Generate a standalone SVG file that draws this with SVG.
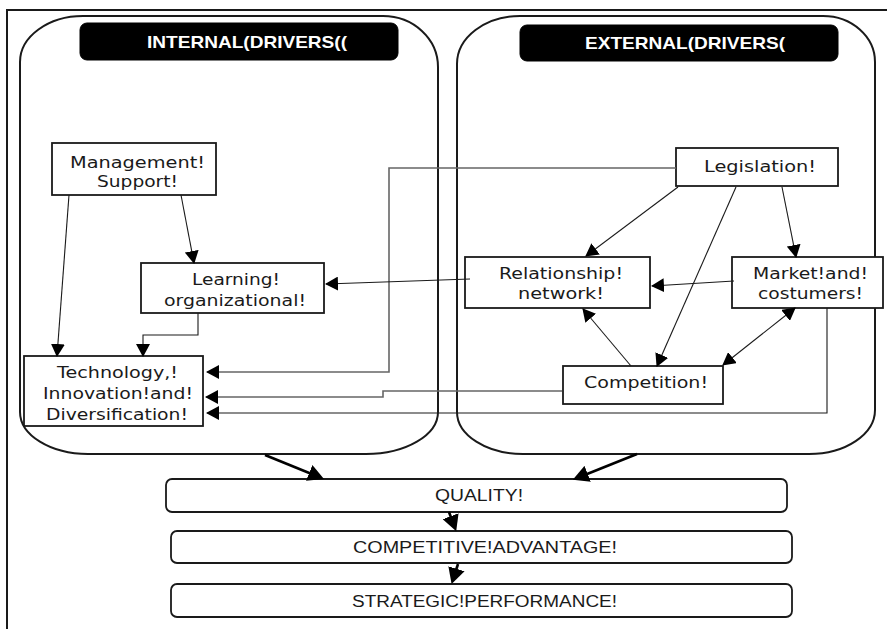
<svg xmlns="http://www.w3.org/2000/svg" width="887" height="629" viewBox="0 0 887 629">
<style>
.frame{fill:none;stroke:#1a1a1a;stroke-width:2}
.group{fill:#fff;stroke:#1a1a1a;stroke-width:2}
.hdr{fill:#000;stroke:#000;stroke-width:1}
.hdrt{font-family:"Liberation Sans",Arial,sans-serif;font-weight:bold;font-size:17px;fill:#fff}
.node{fill:#fff;stroke:#1a1a1a;stroke-width:1.8}
.nt{font-family:"DejaVu Sans","Liberation Sans",sans-serif;font-size:16px;fill:#1a1a1a}
.bt{font-family:"Liberation Sans",Arial,sans-serif;font-size:16px;fill:#1a1a1a}
.ln{fill:none;stroke:#1a1a1a;stroke-width:1.1}
.lg{fill:none;stroke:#666;stroke-width:1.6}
.thick{fill:none;stroke:#000;stroke-width:2.6}
</style>
<defs>
<marker id="arr" markerUnits="userSpaceOnUse" markerWidth="14" markerHeight="14" refX="12" refY="7" orient="auto-start-reverse">
<path d="M0,0 L13,7 L0,14 Z" fill="#000"/>
</marker>
<marker id="arrB" markerUnits="userSpaceOnUse" markerWidth="17" markerHeight="17" refX="12" refY="8.5" orient="auto">
<path d="M0,0 L16,8.5 L0,17 Z" fill="#000"/>
</marker>
</defs>

<polyline class="frame" points="7,629 7,10 887,10"/>

<g id="internal-drivers">
<path class="group" d="M20,62 A63,46 0 0 1 83,16 L383,16 A55,51 0 0 1 438,67 L438,412 A72,42 0 0 1 366,454 L88,454 A68,42 0 0 1 20,412 Z"/>
<rect class="hdr" x="80" y="23" width="318" height="37" rx="7"/>
<text class="hdrt" x="147" y="48" textLength="200" lengthAdjust="spacingAndGlyphs">INTERNAL(DRIVERS((</text>
</g>

<g id="external-drivers">
<path class="group" d="M457,64 A63,48 0 0 1 520,16 L823,16 A52,46 0 0 1 875,62 L875,410 A66,44 0 0 1 809,454 L523,454 A66,42 0 0 1 457,412 Z"/>
<rect class="hdr" x="520" y="25" width="318" height="36" rx="7"/>
<text class="hdrt" x="585" y="49" textLength="200" lengthAdjust="spacingAndGlyphs">EXTERNAL(DRIVERS(</text>
</g>

<g id="management-support">
<rect class="node" x="52" y="143" width="164" height="52"/>
<text class="nt" x="70" y="168" textLength="135" lengthAdjust="spacingAndGlyphs">Management!</text>
<text class="nt" x="97" y="187" textLength="81" lengthAdjust="spacingAndGlyphs">Support!</text>
</g>

<g id="learning-organizational">
<rect class="node" x="141" y="263" width="183" height="50"/>
<text class="nt" x="192" y="285" textLength="88" lengthAdjust="spacingAndGlyphs">Learning!</text>
<text class="nt" x="164" y="306" textLength="142" lengthAdjust="spacingAndGlyphs">organizational!</text>
</g>

<g id="technology">
<rect class="node" x="24" y="356" width="179" height="70"/>
<text class="nt" x="57" y="378" textLength="121" lengthAdjust="spacingAndGlyphs">Technology,!</text>
<text class="nt" x="43" y="399" textLength="150" lengthAdjust="spacingAndGlyphs">Innovation!and!</text>
<text class="nt" x="46" y="420" textLength="142" lengthAdjust="spacingAndGlyphs">Diversification!</text>
</g>

<g id="legislation">
<rect class="node" x="676" y="148" width="162" height="38"/>
<text class="nt" x="704" y="172" textLength="112" lengthAdjust="spacingAndGlyphs">Legislation!</text>
</g>

<g id="relationship-network">
<rect class="node" x="465" y="257" width="185" height="51"/>
<text class="nt" x="499" y="279" textLength="124" lengthAdjust="spacingAndGlyphs">Relationship!</text>
<text class="nt" x="518" y="299" textLength="86" lengthAdjust="spacingAndGlyphs">network!</text>
</g>

<g id="market-costumers">
<rect class="node" x="732" y="257" width="151" height="51"/>
<text class="nt" x="753" y="279" textLength="115" lengthAdjust="spacingAndGlyphs">Market!and!</text>
<text class="nt" x="758" y="299" textLength="105" lengthAdjust="spacingAndGlyphs">costumers!</text>
</g>

<g id="competition">
<rect class="node" x="563" y="366" width="160" height="38"/>
<text class="nt" x="584" y="388" textLength="124" lengthAdjust="spacingAndGlyphs">Competition!</text>
</g>

<g id="quality">
<rect class="node" x="166" y="479" width="621" height="33" rx="6"/>
<text class="bt" x="435" y="501" textLength="88" lengthAdjust="spacingAndGlyphs">QUALITY!</text>
</g>

<g id="competitive-advantage">
<rect class="node" x="171" y="531" width="621" height="32" rx="6"/>
<text class="bt" x="353" y="553" textLength="264" lengthAdjust="spacingAndGlyphs">COMPETITIVE!ADVANTAGE!</text>
</g>

<g id="strategic-performance">
<rect class="node" x="171" y="584" width="621" height="33" rx="6"/>
<text class="bt" x="352" y="607" textLength="265" lengthAdjust="spacingAndGlyphs">STRATEGIC!PERFORMANCE!</text>
</g>

<g id="connectors">
<line class="ln" x1="69" y1="195" x2="57" y2="356" marker-end="url(#arr)"/>
<line class="ln" x1="181" y1="195" x2="194" y2="263" marker-end="url(#arr)"/>
<polyline class="ln" points="198,313 198,335 143,335 143,356" marker-end="url(#arr)"/>
<polyline class="lg" points="676,168 389,168 389,372 207,372" marker-end="url(#arr)"/>
<line class="ln" x1="470" y1="279" x2="326" y2="284" marker-end="url(#arr)"/>
<polyline class="lg" points="562,391 383,391 383,397 206,397" marker-end="url(#arr)"/>
<polyline class="ln" points="827,308 827,413 207,413" marker-end="url(#arr)"/>
<line class="ln" x1="678" y1="187" x2="586" y2="256" marker-end="url(#arr)"/>
<line class="ln" x1="736" y1="187" x2="657" y2="366" marker-end="url(#arr)"/>
<line class="ln" x1="782" y1="187" x2="796" y2="257" marker-end="url(#arr)"/>
<line class="ln" x1="734" y1="281" x2="652" y2="286" marker-end="url(#arr)"/>
<line class="ln" x1="631" y1="366" x2="583" y2="309" marker-end="url(#arr)"/>
<line class="ln" x1="723" y1="365" x2="795" y2="308" marker-start="url(#arr)" marker-end="url(#arr)"/>
<line class="thick" x1="265" y1="455" x2="320.3" y2="477.5" marker-end="url(#arrB)"/>
<line class="thick" x1="637" y1="454" x2="576.5" y2="478.2" marker-end="url(#arrB)"/>
<line class="thick" x1="449" y1="512" x2="454.8" y2="527.5" marker-end="url(#arrB)"/>
<line class="thick" x1="458" y1="564" x2="452.8" y2="580.2" marker-end="url(#arrB)"/>
</g>
</svg>
